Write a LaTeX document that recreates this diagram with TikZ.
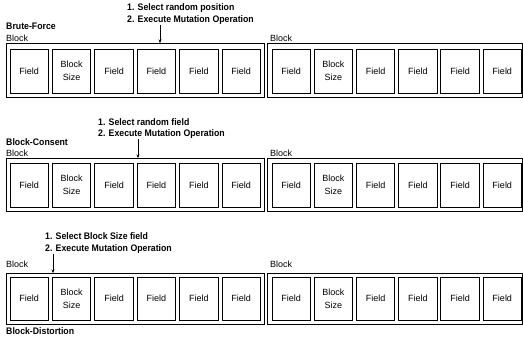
\documentclass[tikz,border=0pt]{standalone}
\usepackage{fontspec}
\setmainfont{Liberation Sans}
\newfontfamily\annfont[FakeStretch=0.92]{Liberation Sans}
\usetikzlibrary{arrows.meta}
\tikzset{
  fieldbox/.style={draw, line width=1pt, minimum width=38.5pt, inner sep=0pt,
    font=\fontsize{9}{13}\selectfont, align=center},
  blockbox/.style={draw, line width=0.7pt, inner sep=0pt},
  blocklabel/.style={anchor=west, inner sep=0pt, font=\fontsize{9}{11}\selectfont},
  heading/.style={anchor=west, inner sep=0pt, font=\annfont\bfseries\fontsize{9.5}{11}\selectfont},
  annot/.style={anchor=north west, inner sep=0pt, align=left},
  pointer/.style={line width=0.7pt, -{Stealth[length=3.5pt,width=3pt]}}
}
\begin{document}
\begin{tikzpicture}[x=1pt,y=-1pt]
\useasboundingbox (0,0) rectangle (523,341);

% rows: number / outer top / outer bottom / field top / field bottom / label y
\foreach \r/\ot/\ob/\ft/\fb/\ly in {1/43/97/49/93/38, 2/158/211/163/207/153, 3/273/324/277/320/264}{
  \pgfmathsetmacro{\oh}{\ob-\ot}
  \pgfmathsetmacro{\oc}{(\ob+\ot)/2}
  \pgfmathsetmacro{\fh}{\fb-\ft}
  \pgfmathsetmacro{\fc}{(\fb+\ft)/2}
  \node[blockbox, minimum width=258pt, minimum height=\oh pt] (blkL\r) at (135,\oc) {};
  \node[blockbox, minimum width=255.5pt, minimum height=\oh pt] (blkR\r) at (394.75,\oc) {};
  \node[blocklabel] (lblL\r) at (6,\ly) {Block};
  \node[blocklabel] (lblR\r) at (270,\ly) {Block};
  \foreach \i/\t in {0/Field, 1/{Block\\Size}, 2/Field, 3/Field, 4/Field, 5/Field}{
    \node[fieldbox, minimum height=\fh pt] (fL\r\i) at ({29.25+42.4*\i},\fc) {\t};
    \node[fieldbox, minimum height=\fh pt] (fR\r\i) at ({291.25+42.2*\i},\fc) {\t};
  }
}

% headings
\node[heading] (h1) at (6,26) {Brute-Force};
\node[heading] (h2) at (6,142) {Block-Consent};
\node[heading] (h3) at (6,331) {Block-Distortion};

% annotations
\node[annot, font=\annfont\bfseries\fontsize{9.5}{12.6}\selectfont] (ann1) at (127,3.3)
  {1. Select random position\\2. Execute Mutation Operation};
\node[annot, font=\annfont\bfseries\fontsize{9.5}{11}\selectfont] (ann2) at (98,118.5)
  {1. Select random field\\2. Execute Mutation Operation};
\node[annot, font=\annfont\bfseries\fontsize{9.5}{12}\selectfont] (ann3) at (45,232.5)
  {1. Select Block Size field\\2. Execute Mutation Operation};

% pointers
\coordinate (p1) at (160,43);
\coordinate (p2) at (138,158);
\coordinate (p3) at (53,273);
\draw[pointer] (ann1.south -| p1) -- (p1);
\draw[pointer] (ann2.south -| p2) -- (p2);
\draw[pointer] (ann3.south -| p3) -- (p3);
\end{tikzpicture}
\end{document}
